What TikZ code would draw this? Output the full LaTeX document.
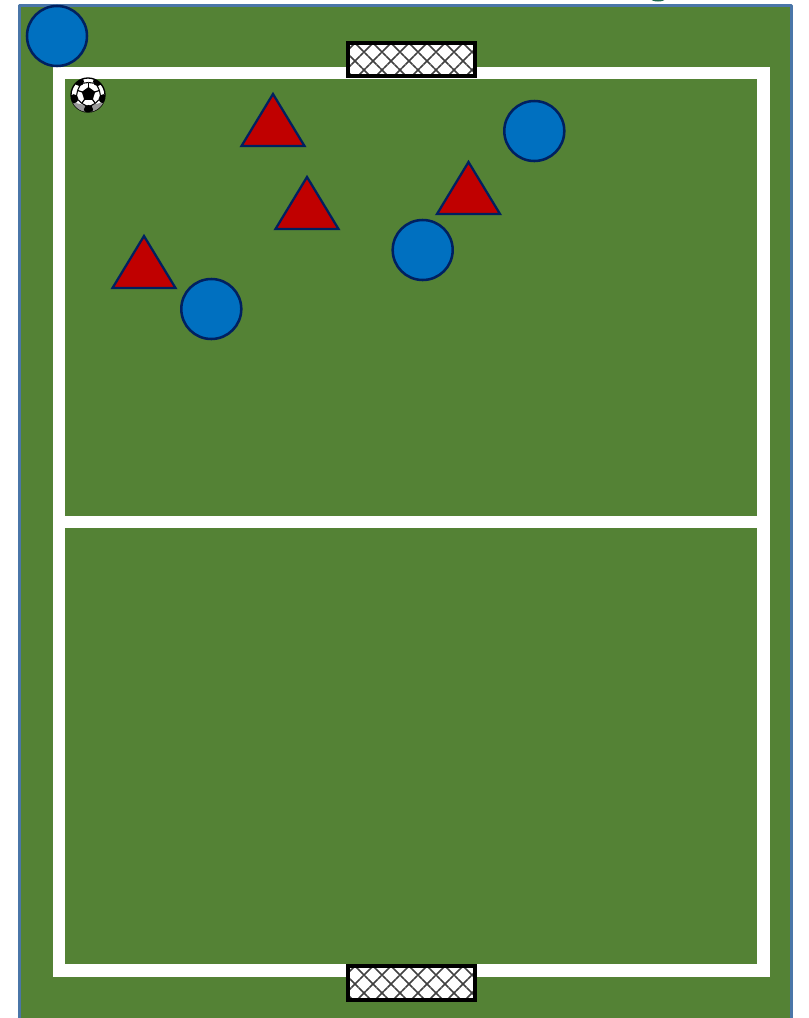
\documentclass[tikz,border=0pt]{standalone}
\usetikzlibrary{calc}
\definecolor{pitch}{HTML}{548235}
\definecolor{rim}{HTML}{4A76A8}
\definecolor{blueteam}{HTML}{0070C0}
\definecolor{redteam}{HTML}{C00000}
\definecolor{navy}{HTML}{002060}
\definecolor{speck}{HTML}{1F6B4F}
\tikzset{
fieldline/.style={draw=white,line width=9.2pt,line join=miter},
player/.style={draw=navy,line width=1.9pt,fill=blueteam},
opponent/.style={draw=navy,line width=1.7pt,fill=redteam,line join=miter},
goalframe/.style={draw=black,line width=3.3pt,line join=miter},
goalnet/.style={draw=black!75,line width=1.25pt,dash pattern=on 1.5pt off .3pt}
}
\begin{document}
\begin{tikzpicture}[x=.75pt,y=-.75pt,line join=round]
\clip (0,0) rectangle (808,1018);
\fill[white] (0,0) rectangle (808,1018);
\fill[speck] (658,-1) ellipse (7 and 2.5);
\draw[fill=pitch,draw=rim,line width=2pt] (19.5,5.5) rectangle (791.5,1030);
% lines of the pitch
\draw[fieldline] (59,73) rectangle (763.5,970.5) (59,522) -- (763.5,522);
% goals
\foreach \y/\h in {41/37,964/38}{
\fill[white] (348,\y+1) rectangle (475,\y+\h-1);
\begin{scope}
\clip (348,\y+1) rectangle (475,\y+\h-1);
\foreach \k in {-3,...,9}{
\draw[goalnet] (335+18*\k,\y) -- ++(40,40);
\draw[goalnet] (375+18*\k,\y) -- ++(-40,40);
}
\end{scope}
\draw[goalframe] (348.2,\y+2.2) rectangle (474.8,\y+\h-2.2);
}
% blue players
\foreach \x/\y in {57/36,534.3/131,422.7/250,211.3/309}
\draw[player] (\x,\y) circle (30);
% red players
\foreach \x/\y in {273/94,307/177,144/236,468.5/162}
\draw[opponent] (\x,\y) -- ++(-31.5,52) -- ++(63,0) -- cycle;
% ball
\path (88,95) coordinate (ball);
\draw[fill=white,line width=1pt] (ball) circle (17);
\begin{scope}
\clip (ball) circle (17);
\fill[black!40] (72,102) -- (88,106) -- (104,102) -- (100,114) -- (76,114) -- cycle;
\foreach \g in {-90,-18,54,126,198}{
\draw[line width=.9pt] ($(88.5,94)+(\g:6)$) -- ($(88.5,94)+(\g:11.5)$);
\fill[black] ($(88.5,94)+(\g+36:15.5)$) circle (4.6);
\draw[line width=.8pt] ($(88.5,94)+(\g:11.5)$) -- ($(88.5,94)+(\g+36:13)$) -- ($(88.5,94)+(\g+72:11.5)$);
}
\fill[black] (88.5,87) -- (95.2,91.9) -- (92.7,99.8) -- (84.3,99.8) -- (81.8,91.9) -- cycle;
\end{scope}
\end{tikzpicture}
\end{document}
